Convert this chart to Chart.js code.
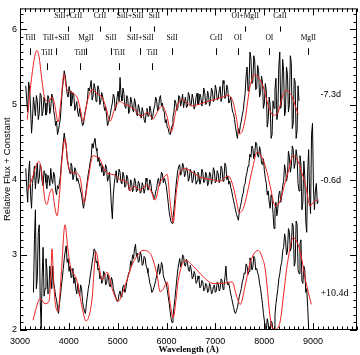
<!DOCTYPE html>
<html>
<head>
<meta charset="utf-8">
<script src="https://cdn.jsdelivr.net/npm/chart.js@4.4.1/dist/chart.umd.min.js"></script>
<style>
  html, body { margin: 0; padding: 0; background: #fff; }
</style>
</head>
<body>
<canvas id="specChart" width="360" height="355"></canvas>
<script>
// observed spectra: uniform wavelength grid (start + step), flux + constant
const gridStep = 19.7;
const topStart = 3118;
const fluxTop = [
  5.25,5.05,4.90,5.30,5.22,4.95,4.62,4.80,5.10,4.98,4.85,5.12,5.05,4.80,4.88,5.15,5.12,4.85,4.92,5.10,
  5.02,4.86,4.90,5.12,5.08,4.88,4.96,5.14,5.10,4.92,4.85,4.72,4.78,4.60,4.66,4.74,4.82,5.02,5.20,5.32,
  5.45,5.38,5.28,5.14,5.10,5.24,5.18,4.98,5.02,5.16,5.12,4.92,4.98,5.04,4.90,4.84,4.95,4.86,4.80,4.72,
  4.74,4.85,4.92,4.98,5.05,5.22,5.18,5.24,5.32,5.06,5.12,5.28,5.22,5.04,5.08,5.25,5.20,5.00,5.05,5.16,
  5.10,5.00,4.92,4.98,4.85,4.72,4.76,4.82,4.88,4.96,5.02,5.14,5.10,4.92,4.98,5.10,5.18,5.04,5.36,5.12,
  5.05,5.22,5.15,4.98,4.95,5.12,5.08,4.88,4.92,5.10,5.05,4.94,4.90,5.08,5.02,4.88,4.85,5.00,4.95,4.86,
  4.82,4.96,4.90,4.80,4.76,4.88,4.95,4.84,4.85,4.98,4.92,4.80,4.84,4.94,4.98,5.10,5.06,4.92,4.95,5.08,
  5.12,4.98,5.02,4.92,4.90,4.76,4.80,4.70,4.68,4.62,4.60,4.66,4.72,4.84,4.90,5.06,5.02,4.92,4.95,5.12,
  5.10,4.98,5.05,5.14,4.96,5.04,5.10,4.96,4.98,5.16,5.12,4.98,5.00,5.14,5.08,4.94,4.98,5.10,5.15,5.00,
  5.02,5.14,5.10,4.98,5.05,5.22,5.16,5.00,5.02,5.18,5.12,4.98,5.04,5.22,5.18,5.04,5.06,5.26,5.20,5.06,
  5.08,5.18,5.24,5.04,5.10,5.32,5.28,5.08,5.12,5.26,5.20,5.02,5.05,5.10,4.98,4.90,4.88,4.80,4.70,4.62,
  4.55,4.68,4.62,4.72,4.78,4.86,4.92,5.05,5.15,5.38,5.50,5.18,5.25,5.70,5.62,5.28,5.30,5.65,5.58,5.20,
  5.22,5.52,5.45,5.10,5.15,5.38,5.30,4.95,5.02,5.28,5.18,4.70,4.80,5.10,5.00,4.55,4.60,5.05,4.95,5.20,
  5.35,4.80,4.90,5.50,5.70,4.95,5.05,5.60,5.45,4.85,4.92,5.50,5.40,4.90,5.00,5.65,5.55,4.68,4.75,5.35,
  5.30,4.55,4.65,5.25,5.05
];
const midStart = 3118;
const fluxMid = [
  4.15,3.90,3.70,4.10,4.25,3.80,3.62,3.95,4.05,4.18,3.88,4.05,4.22,3.95,4.02,4.20,4.15,3.98,3.92,4.12,
  4.08,3.96,3.88,4.06,4.02,3.92,4.15,4.00,3.95,4.10,4.05,3.86,3.80,3.92,3.88,3.96,4.05,4.22,4.35,4.50,
  4.62,4.52,4.45,4.28,4.20,4.14,4.08,4.22,4.18,4.00,4.05,4.16,4.12,3.98,4.02,3.96,3.92,3.85,3.80,3.70,
  3.62,3.70,3.78,3.88,3.98,4.08,4.15,4.24,4.30,4.48,4.42,4.50,4.55,4.42,4.38,4.24,4.30,4.18,4.22,4.10,
  4.18,4.05,4.08,4.20,4.15,3.98,4.02,4.10,3.90,3.65,3.48,3.80,3.95,4.05,4.12,3.96,4.02,4.14,4.10,3.96,
  3.95,4.10,4.05,3.90,3.92,4.06,4.02,3.88,3.85,4.00,3.96,3.84,3.88,4.02,3.98,3.84,3.86,3.98,3.95,3.82,
  3.84,3.96,3.92,3.82,3.88,4.02,3.98,3.86,3.90,4.00,3.95,3.84,3.82,3.74,3.76,3.84,3.88,3.98,4.02,3.92,
  3.98,4.10,4.08,3.96,4.02,3.98,3.92,3.82,3.70,3.58,3.50,3.44,3.42,3.50,3.60,3.75,3.90,4.02,4.12,4.18,
  4.20,4.06,4.10,4.22,4.18,4.04,4.08,4.16,4.12,3.98,4.02,4.14,4.10,3.96,4.00,4.12,4.08,3.94,3.98,4.10,
  4.06,3.94,4.00,4.14,4.10,3.96,3.98,4.10,4.06,3.92,3.96,4.10,4.08,3.94,4.00,4.16,4.12,3.96,3.98,4.12,
  4.08,3.96,4.00,4.18,4.14,3.98,4.02,4.22,4.18,4.00,4.05,3.94,3.98,3.90,3.85,3.78,3.72,3.66,3.60,3.54,
  3.50,3.46,3.58,3.64,3.70,3.78,3.82,3.92,3.95,4.05,4.10,4.18,4.22,4.34,4.30,4.45,4.42,4.28,4.35,4.50,
  4.48,4.32,4.30,4.44,4.38,4.22,4.20,4.28,4.12,4.02,3.95,3.80,3.85,3.70,3.62,3.80,3.75,3.55,3.35,3.60,
  3.70,3.52,3.62,3.80,3.85,3.70,3.78,3.92,3.98,4.20,4.12,3.98,4.05,4.38,4.30,4.10,4.18,4.45,4.40,4.15,
  4.22,4.40,4.30,3.95,3.85,4.32,4.20,3.60,3.70,4.25,4.05,3.45,3.30,4.10,4.40,3.80,3.55,4.60,4.75,3.90,
  3.60,3.85,3.95,3.68,3.72
];
const lowStart = 3276;
const fluxLow = [
  2.50,3.20,3.60,2.55,2.70,3.30,3.40,2.40,2.02,2.70,3.10,2.45,2.55,2.95,2.80,2.48,2.50,2.85,2.72,2.55,
  2.85,2.62,2.55,2.45,2.40,2.30,2.22,2.35,2.45,2.58,2.70,2.82,2.95,3.05,3.12,2.90,2.95,2.78,2.85,2.70,
  2.75,2.82,2.62,2.70,2.55,2.48,2.62,2.52,2.45,2.60,2.55,2.38,2.30,2.25,2.22,2.35,2.45,2.55,2.62,2.72,
  2.80,2.90,2.98,3.08,3.06,2.90,2.92,2.80,2.82,2.68,2.72,2.62,2.66,2.78,2.74,2.60,2.62,2.74,2.70,2.58,
  2.58,2.70,2.66,2.55,2.50,2.46,2.42,2.38,2.40,2.48,2.52,2.44,2.48,2.58,2.60,2.50,2.55,2.64,2.70,2.76,
  2.78,2.92,2.86,3.00,2.95,3.08,3.14,2.98,3.02,2.90,2.92,3.04,3.00,2.86,2.88,2.98,2.96,2.86,2.82,2.76,
  2.70,2.62,2.58,2.50,2.52,2.56,2.60,2.66,2.72,2.80,2.88,2.74,2.78,2.90,2.86,2.72,2.68,2.64,2.62,2.54,
  2.45,2.36,2.25,2.15,2.10,2.18,2.30,2.42,2.55,2.68,2.80,2.88,2.95,2.84,2.88,3.00,2.98,2.86,2.85,2.94,
  2.90,2.80,2.78,2.86,2.80,2.68,2.70,2.78,2.74,2.62,2.64,2.72,2.68,2.56,2.58,2.66,2.64,2.52,2.54,2.62,
  2.60,2.50,2.52,2.62,2.58,2.48,2.50,2.58,2.60,2.50,2.52,2.64,2.62,2.52,2.55,2.68,2.66,2.54,2.58,2.70,
  2.85,2.66,2.60,2.62,2.55,2.48,2.42,2.36,2.30,2.24,2.22,2.26,2.30,2.38,2.45,2.50,2.55,2.64,2.68,2.76,
  2.75,2.88,2.85,2.74,2.78,2.96,2.92,2.80,2.84,2.98,2.95,2.80,2.82,2.76,2.72,2.62,2.55,2.45,2.35,2.22,
  2.12,2.05,2.00,2.15,2.08,1.95,1.98,2.12,2.10,1.96,2.02,2.20,2.35,2.45,2.55,2.68,2.75,2.85,2.90,3.05,
  3.10,3.28,3.20,3.00,3.05,3.35,3.30,3.05,3.10,3.42,3.38,2.85,2.90,3.45,3.40,2.80,2.75,3.15,3.20,2.65,
  2.62,2.85,2.80,2.50,2.55,2.30,2.02
];

// model spectra (red)
const modelTopWave = [3148,3227,3296,3345,3394,3453,3513,3582,3655,3710,3779,3838,3902,3956,4025,4104,4168,4232,4291,4380,
  4476,4577,4681,4764,4844,4942,5049,5149,5254,5366,5459,5533,5602,5661,5725,5809,5910,6006,6094,6204,
  6320,6420,6525,6647,6791,6996,7140,7262,7365,7436,7488,7554,7611,7712,7816,7889,7980,8076,8164,8224,
  8287,8372,8451,8520,8574,8638,8697];
const modelTopFlux = [4.80,5.30,5.62,5.72,5.62,5.30,5.07,5.04,5.10,5.00,4.77,5.05,5.40,5.20,5.17,5.14,5.10,4.95,4.78,5.05,
  5.20,5.14,5.10,4.95,4.78,4.95,5.04,5.00,4.98,4.92,4.85,4.86,4.90,4.86,4.81,4.90,4.98,4.85,4.63,4.95,
  5.07,5.02,4.98,5.00,5.03,5.07,5.10,5.12,5.03,4.80,4.61,4.65,4.81,5.25,5.40,5.35,5.24,5.00,4.87,4.86,
  4.90,5.10,5.19,5.16,5.10,4.98,4.87];
const modelMidWave = [3164,3266,3335,3389,3434,3471,3513,3553,3601,3655,3710,3758,3808,3858,3922,3976,4025,4127,4229,4272,
  4311,4394,4496,4577,4639,4715,4783,4947,5049,5152,5208,5254,5307,5357,5459,5602,5681,5767,5859,5930,
  6012,6075,6136,6204,6278,6381,6546,6751,6955,7099,7262,7365,7436,7488,7574,7652,7761,7857,7980,8057,
  8124,8225,8328,8402,8472,8595,8697,8766,8840,8943,9005,9108];
const modelMidFlux = [3.86,4.05,4.20,4.24,4.15,3.95,3.72,3.67,3.80,3.88,3.65,3.52,3.80,4.25,4.54,4.25,4.11,4.09,4.03,3.85,
  3.69,4.00,4.32,4.30,4.27,4.15,4.09,4.06,4.00,3.98,3.95,3.85,3.90,3.91,3.86,3.93,3.85,3.73,3.95,4.02,
  4.07,3.70,3.43,3.85,4.11,4.15,4.09,4.02,4.00,3.98,4.05,3.91,3.70,3.56,3.62,3.82,4.15,4.37,4.26,4.10,
  3.91,3.65,3.72,3.90,4.06,4.32,4.24,4.10,3.95,3.65,3.70,3.74];
const modelLowWave = [3266,3335,3410,3513,3591,3631,3655,3685,3718,3779,3840,3922,3976,4025,4168,4272,4352,4419,4476,4557,
  4617,4681,4783,4906,5008,5110,5296,5415,5520,5664,5807,5869,5937,6012,6075,6136,6194,6238,6381,6546,
  6751,6955,7140,7344,7436,7509,7613,7714,7877,7968,8021,8124,8175,8225,8328,8402,8472,8595,8738,8840,
  8964];
const modelLowFlux = [2.13,2.30,2.42,2.35,2.38,2.70,3.08,2.70,2.38,2.25,2.70,3.40,3.10,2.87,2.65,2.30,2.12,2.20,2.42,3.04,
  2.85,2.67,2.77,2.51,2.38,2.51,2.87,3.00,3.06,3.02,2.73,2.51,2.55,2.64,2.35,2.16,2.40,2.65,2.93,2.85,
  2.71,2.62,2.62,2.64,2.45,2.34,2.60,2.90,3.06,2.95,2.81,2.16,2.02,2.01,2.12,2.50,2.87,3.23,3.04,2.68,
  2.34];

// axis ticks
const xTicks = [3000,4000,5000,6000,7000,8000,9000];
const yTicks = [2,3,4,5,6];

// epochs
const epochNames = ["-7.3d", "-0.6d", "+10.4d"];
const epochLevels = [5.14, 3.99, 2.49];

// line identifications (three rows)
const idRow1Names = ["SiII+CrII","CrII","SiII+SiII","SiII","OI+MgII","CaII"];
const idRow1Waves = [3986,4636,5257,5750,7613,8323];
const idRow2Names = ["TiII","TiII+SiII","MgII","SiII","SiII+SiII","SiII","CrII","OI","OI","MgII"];
const idRow2Waves = [3207,3739,4350,4863,5464,6115,7017,7465,8106,8904];
const idRow3Names = ["TiII","TiII","TiII","TiII"];
const idRow3Waves = [3552,4232,5031,5706];

const RED = "rgb(238,32,32)";

function gridPoints(start, flux) {
    return flux.map((f, i) => ({ x: start + i * gridStep, y: f }));
}
function pairPoints(waves, flux) {
    return waves.map((w, i) => ({ x: w, y: flux[i] }));
}

// frame with inward major/minor ticks on all four sides
const framePlugin = {
    id: "frame",
    afterDatasetsDraw(chart) {
        const { ctx, chartArea: a, scales: { x, y } } = chart;
        ctx.save();
        ctx.strokeStyle = "#000";
        ctx.lineWidth = 1;
        ctx.strokeRect(a.left + 0.5, a.top + 0.5, a.right - a.left - 1, a.bottom - a.top - 1);
        ctx.beginPath();
        for (let v = 3000; v <= x.max; v += 100) {
            const px = Math.round(x.getPixelForValue(v)) + 0.5;
            const len = v % 1000 === 0 ? 7 : 3.5;
            ctx.moveTo(px, a.bottom); ctx.lineTo(px, a.bottom - len);
            ctx.moveTo(px, a.top); ctx.lineTo(px, a.top + len);
        }
        for (let i = 20; i <= Math.floor(y.max * 10); i++) {
            const py = Math.round(y.getPixelForValue(i / 10)) + 0.5;
            const len = i % 10 === 0 ? 7 : 3.5;
            ctx.moveTo(a.left, py); ctx.lineTo(a.left + len, py);
            ctx.moveTo(a.right, py); ctx.lineTo(a.right - len, py);
        }
        ctx.stroke();
        ctx.restore();
    }
};

// line ids and epoch labels
const labelPlugin = {
    id: "labels",
    afterDatasetsDraw(chart) {
        const { ctx, scales: { x, y } } = chart;
        ctx.save();
        ctx.fillStyle = "#000";
        ctx.strokeStyle = "#000";
        ctx.lineWidth = 1;
        ctx.textAlign = "center";
        ctx.textBaseline = "middle";
        ctx.font = "7.5px 'Liberation Serif'";
        const rows = [
            [idRow1Names, idRow1Waves, 6.18, 6.04, 5.97],
            [idRow2Names, idRow2Waves, 5.88, 5.75, 5.66],
            [idRow3Names, idRow3Waves, 5.69, 5.55, 5.46]
        ];
        rows.forEach(([names, waves, ty, t0, t1]) => {
            names.forEach((n, i) => {
                const px = x.getPixelForValue(waves[i]);
                ctx.fillText(n, px, y.getPixelForValue(ty));
                const lx = Math.round(px) + 0.5;
                ctx.beginPath();
                ctx.moveTo(lx, y.getPixelForValue(t0));
                ctx.lineTo(lx, y.getPixelForValue(t1));
                ctx.stroke();
            });
        });
        ctx.textAlign = "left";
        epochNames.forEach((n, i) => {
            ctx.font = i === 2 ? "10px 'Liberation Serif'" : "9px 'Liberation Sans'";
            ctx.fillText(n, x.getPixelForValue(9151), y.getPixelForValue(epochLevels[i]));
        });
        ctx.restore();
    }
};

const lineOpts = { pointRadius: 0, borderWidth: 1, fill: false };

new Chart(document.getElementById("specChart"), {
    type: "line",
    data: {
        datasets: [
            { label: "model -7.3d", data: pairPoints(modelTopWave, modelTopFlux), borderColor: RED, cubicInterpolationMode: "monotone", ...lineOpts },
            { label: "model -0.6d", data: pairPoints(modelMidWave, modelMidFlux), borderColor: RED, cubicInterpolationMode: "monotone", ...lineOpts },
            { label: "model +10.4d", data: pairPoints(modelLowWave, modelLowFlux), borderColor: RED, cubicInterpolationMode: "monotone", ...lineOpts },
            { label: "-7.3d", data: gridPoints(topStart, fluxTop), borderColor: "#000", tension: 0, ...lineOpts },
            { label: "-0.6d", data: gridPoints(midStart, fluxMid), borderColor: "#000", tension: 0, ...lineOpts },
            { label: "+10.4d", data: gridPoints(lowStart, fluxLow), borderColor: "#000", tension: 0, ...lineOpts }
        ]
    },
    options: {
        responsive: false,
        animation: false,
        layout: { padding: { top: 3, right: 3, left: 0, bottom: 0 } },
        plugins: { legend: { display: false }, tooltip: { enabled: false } },
        scales: {
            x: {
                type: "linear", min: 3000, max: 9900,
                afterBuildTicks: s => { s.ticks = xTicks.map(v => ({ value: v })); },
                afterFit: s => { s.height = 25; },
                grid: { display: false, drawTicks: false },
                border: { display: false },
                ticks: { padding: 6, color: "#000", maxRotation: 0, autoSkip: false,
                         font: { family: "'Liberation Sans'", size: 9 }, callback: v => String(v) },
                title: { display: true, text: "Wavelength (Å)", color: "#000", padding: 0,
                         font: { family: "'Liberation Serif'", size: 9, weight: "bold" } }
            },
            y: {
                min: 2, max: 6.28,
                afterBuildTicks: s => { s.ticks = yTicks.map(v => ({ value: v })); },
                afterFit: s => { s.width = 20; },
                grid: { display: false, drawTicks: false },
                border: { display: false },
                ticks: { padding: 3, color: "#000", font: { family: "'Liberation Sans'", size: 9 }, callback: v => String(v) },
                title: { display: true, text: "Relative Flux + Constant", color: "#000", padding: { top: 2, bottom: 0 },
                         font: { family: "'Liberation Sans'", size: 9.5 } }
            }
        }
    },
    plugins: [framePlugin, labelPlugin]
});
</script>
</body>
</html>
